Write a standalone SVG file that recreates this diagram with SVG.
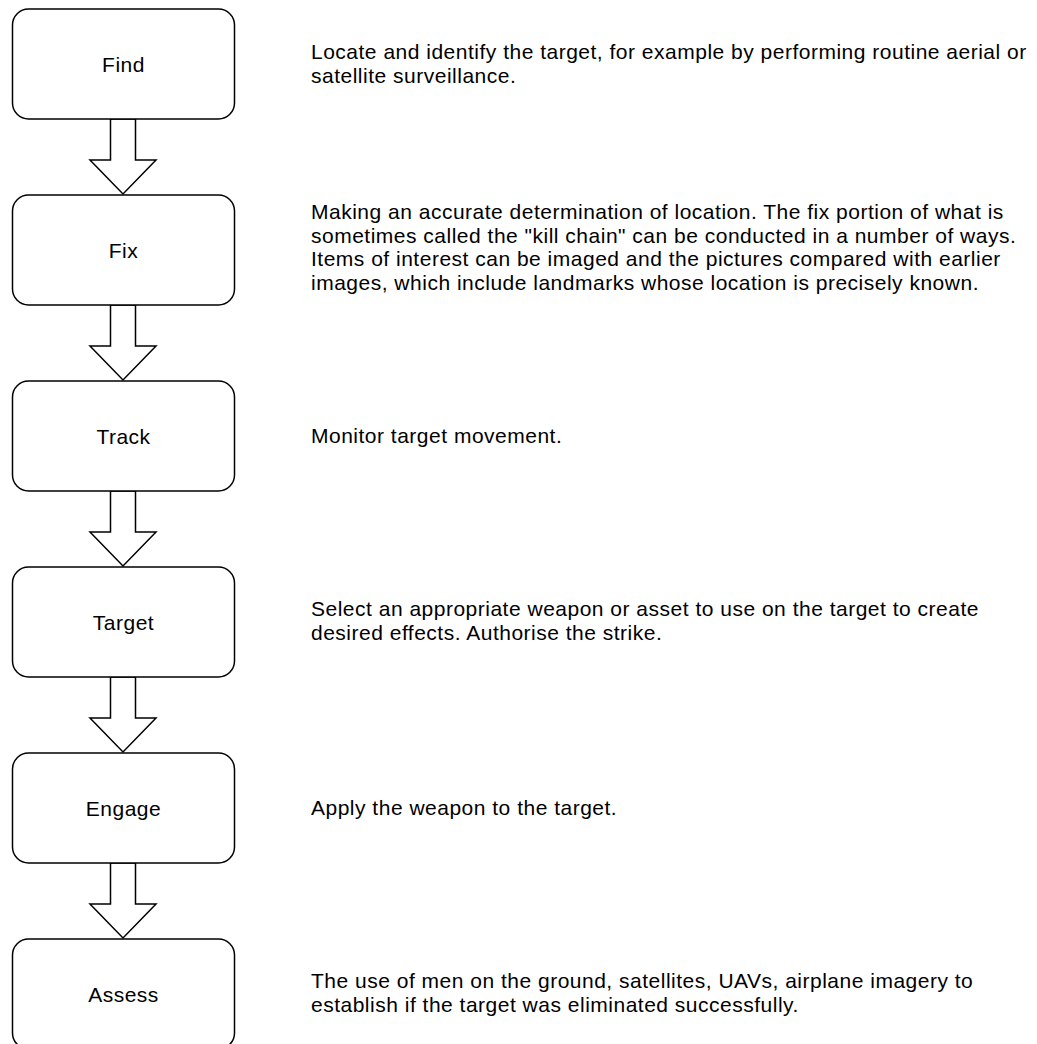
<svg xmlns="http://www.w3.org/2000/svg" width="1037" height="1044" viewBox="0 0 1037 1044">
  <style>
    .box { fill: #ffffff; stroke: #000000; stroke-width: 1.5; }
    .arrow { fill: #ffffff; stroke: #000000; stroke-width: 1.5; stroke-linejoin: miter; }
    .label { font-family: "Liberation Sans", Arial, Helvetica, sans-serif; font-size: 21px; letter-spacing: 0.5px; fill: #000000; text-anchor: middle; }
    .desc { font-family: "Liberation Sans", Arial, Helvetica, sans-serif; font-size: 21px; letter-spacing: 0.5px; fill: #000000; }
  </style>
  <defs>
    <!-- block arrow between consecutive steps, drawn from the lower edge of a box -->
    <path id="down-arrow" class="arrow" d="M110.5 0 L135.5 0 L135.5 41 L156 41 L123 75 L90 41 L110.5 41 Z"/>
  </defs>

  <g id="connectors">
    <use href="#down-arrow" transform="translate(0,119)"/>
    <use href="#down-arrow" transform="translate(0,305)"/>
    <use href="#down-arrow" transform="translate(0,491)"/>
    <use href="#down-arrow" transform="translate(0,677)"/>
    <use href="#down-arrow" transform="translate(0,863)"/>
  </g>

  <g id="find">
    <rect class="box" x="12.5" y="9" width="222" height="110" rx="16" ry="16"/>
    <text class="label" x="123.5" y="72">Find</text>
    <text class="desc" x="311" y="59">Locate and identify the target, for example by performing routine aerial or</text>
    <text class="desc" x="311" y="83">satellite surveillance.</text>
  </g>

  <g id="fix">
    <rect class="box" x="12.5" y="195" width="222" height="110" rx="16" ry="16"/>
    <text class="label" x="123.5" y="258">Fix</text>
    <text class="desc" x="311" y="219">Making an accurate determination of location. The fix portion of what is</text>
    <text class="desc" x="311" y="243">sometimes called the "kill chain" can be conducted in a number of ways.</text>
    <text class="desc" x="311" y="266">Items of interest can be imaged and the pictures compared with earlier</text>
    <text class="desc" x="311" y="290">images, which include landmarks whose location is precisely known.</text>
  </g>

  <g id="track">
    <rect class="box" x="12.5" y="381" width="222" height="110" rx="16" ry="16"/>
    <text class="label" x="123.5" y="444">Track</text>
    <text class="desc" x="311" y="443">Monitor target movement.</text>
  </g>

  <g id="target">
    <rect class="box" x="12.5" y="567" width="222" height="110" rx="16" ry="16"/>
    <text class="label" x="123.5" y="630">Target</text>
    <text class="desc" x="311" y="616">Select an appropriate weapon or asset to use on the target to create</text>
    <text class="desc" x="311" y="640">desired effects. Authorise the strike.</text>
  </g>

  <g id="engage">
    <rect class="box" x="12.5" y="753" width="222" height="110" rx="16" ry="16"/>
    <text class="label" x="123.5" y="816">Engage</text>
    <text class="desc" x="311" y="815">Apply the weapon to the target.</text>
  </g>

  <g id="assess">
    <rect class="box" x="12.5" y="939" width="222" height="110" rx="16" ry="16"/>
    <text class="label" x="123.5" y="1002">Assess</text>
    <text class="desc" x="311" y="988">The use of men on the ground, satellites, UAVs, airplane imagery to</text>
    <text class="desc" x="311" y="1012">establish if the target was eliminated successfully.</text>
  </g>
</svg>
